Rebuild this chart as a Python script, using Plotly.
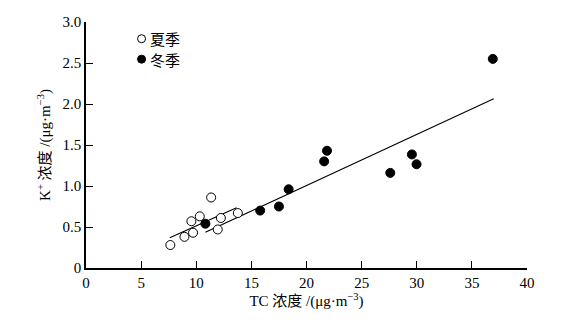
import plotly.graph_objects as go

# Summer (open circles)
summer_tc = [7.65, 8.93, 9.71, 9.56, 10.32, 11.35, 12.23, 11.95, 13.77]
summer_k = [0.28, 0.38, 0.43, 0.57, 0.63, 0.86, 0.61, 0.47, 0.67]
# Winter (filled circles)
winter_tc = [10.83, 15.8, 17.5, 18.38, 21.6, 21.86, 27.6, 29.56, 29.98, 36.9]
winter_k = [0.54, 0.70, 0.75, 0.96, 1.30, 1.43, 1.16, 1.385, 1.265, 2.55]
# Fitted lines (endpoints)
summer_fit_x = [7.6, 13.65]
summer_fit_y = [0.37, 0.735]
winter_fit_x = [10.83, 36.98]
winter_fit_y = [0.435, 2.065]

x_ticks = [0, 5, 10, 15, 20, 25, 30, 35, 40]
y_ticks = [0, 0.5, 1.0, 1.5, 2.0, 2.5, 3.0]
y_tick_labels = ["0", "0.5", "1.0", "1.5", "2.0", "2.5", "3.0"]
legend_names = ["夏季", "冬季"]

serif = "Liberation Serif, Noto Sans CJK SC"

fig = go.Figure()
fig.add_trace(go.Scatter(x=summer_fit_x, y=summer_fit_y, mode="lines",
                         line=dict(color="black", width=1.1), showlegend=False))
fig.add_trace(go.Scatter(x=winter_fit_x, y=winter_fit_y, mode="lines",
                         line=dict(color="black", width=1.1), showlegend=False))
fig.add_trace(go.Scatter(x=summer_tc, y=summer_k, mode="markers", name=legend_names[0],
                         showlegend=False,
                         marker=dict(symbol="circle", size=9, color="white",
                                     line=dict(color="black", width=1))))
fig.add_trace(go.Scatter(x=winter_tc, y=winter_k, mode="markers", name=legend_names[1],
                         showlegend=False,
                         marker=dict(symbol="circle", size=9, color="black",
                                     line=dict(color="black", width=1))))

# Manual legend (paper coordinates)
leg_x = 0.126
leg_y = [0.932, 0.849]
fills = ["white", "black"]
for name, ly, fc in zip(legend_names, leg_y, fills):
    fig.add_shape(type="circle", xref="paper", yref="paper",
                  xsizemode="pixel", ysizemode="pixel",
                  xanchor=leg_x, yanchor=ly, x0=-4, x1=4, y0=-4, y1=4,
                  fillcolor=fc, line=dict(color="black", width=1))
    fig.add_annotation(text=name, xref="paper", yref="paper", x=leg_x, y=ly,
                       xshift=6, xanchor="left", yanchor="middle", showarrow=False,
                       font=dict(family="Noto Sans CJK SC", size=15, color="black"))

fig.update_layout(
    width=586, height=325,
    margin=dict(l=78, r=67, t=14, b=65),
    paper_bgcolor="white", plot_bgcolor="white",
    font=dict(family=serif, size=15, color="black"),
    showlegend=False,
    xaxis=dict(range=[0, 40], tickvals=x_ticks, ticks="inside", ticklen=7,
               tickcolor="black", showline=True, linecolor="black", linewidth=1.5,
               showgrid=False, zeroline=False, mirror=False, automargin=False,
               title=dict(text="TC 浓度 /(μg·m<sup>−3</sup>)", standoff=6,
                          font=dict(family=serif, size=15))),
    yaxis=dict(range=[0, 3.0], tickvals=y_ticks, ticktext=y_tick_labels, ticks="inside",
               ticklen=7, tickcolor="black", showline=True, linecolor="black",
               linewidth=1.5, showgrid=False, zeroline=False, mirror=False, automargin=False,
               title=dict(text="K<sup>+</sup> 浓度 /(μg·m<sup>−3</sup>)", standoff=8,
                          font=dict(family=serif, size=15))),
)

fig.write_html("out.html")
